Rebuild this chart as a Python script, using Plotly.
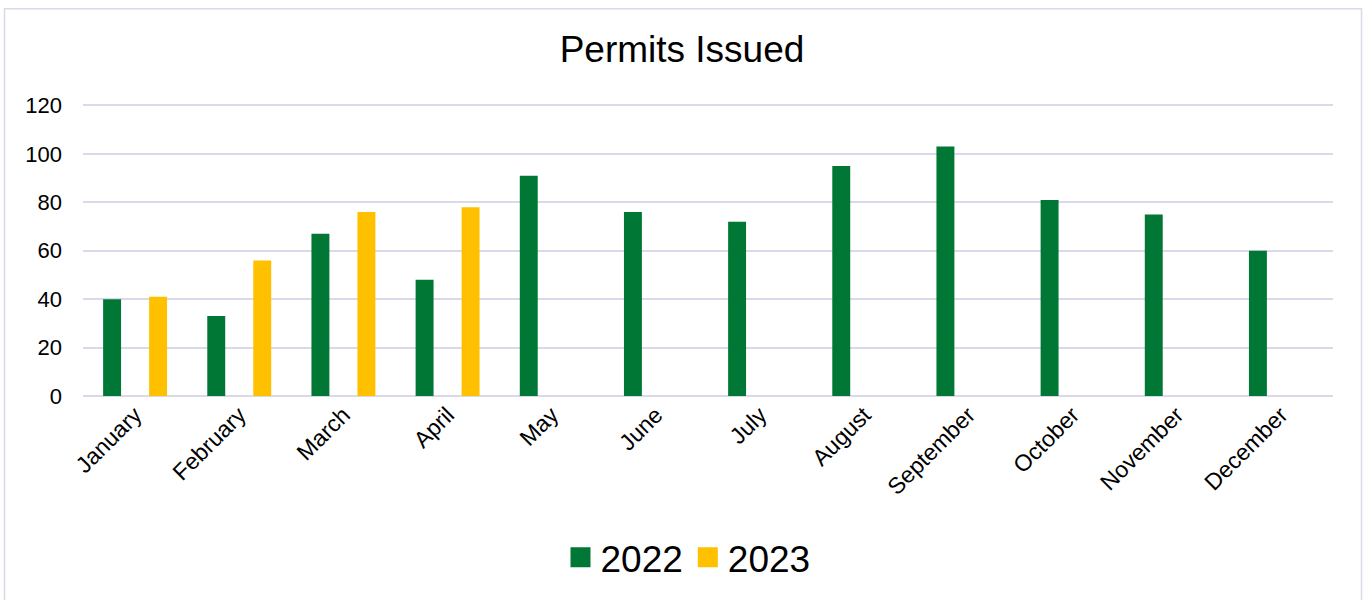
import plotly.graph_objects as go

months = ["January", "February", "March", "April", "May", "June", "July",
          "August", "September", "October", "November", "December"]
vals_2022 = [40, 33, 67, 48, 91, 76, 72, 95, 103, 81, 75, 60]
vals_2023 = [41, 56, 76, 78, None, None, None, None, None, None, None, None]
series_names = ["2022", "2023"]
colors = ["#007734", "#FFC000"]
y_ticks = [0, 20, 40, 60, 80, 100, 120]

FONT = "Liberation Sans, Arial, sans-serif"

fig = go.Figure()
for name, vals, col in zip(series_names, [vals_2022, vals_2023], colors):
    fig.add_trace(go.Bar(x=months, y=vals, name=name, marker_color=col,
                         marker_line_width=0, showlegend=False))
for name, col in zip(series_names, colors):
    fig.add_trace(go.Scatter(x=[None], y=[None], mode="markers", name=name,
                             marker=dict(symbol="square", size=16, color=col,
                                         line=dict(color=col, width=4))))

fig.update_layout(
    width=1364, height=600,
    margin=dict(l=83, r=31, t=104, b=200),
    paper_bgcolor="white", plot_bgcolor="white",
    font=dict(family=FONT, color="#000000"),
    title=dict(text="Permits Issued", x=0.5, xanchor="center", y=0.918, yanchor="middle",
               font=dict(size=37, family=FONT, color="#000000")),
    barmode="group", bargap=0.117, bargroupgap=0.61,
    legend=dict(orientation="h", x=0.484, xanchor="center", y=-0.554, yanchor="middle",
                font=dict(size=37, family=FONT), itemwidth=30, tracegroupgap=0),
    xaxis=dict(tickangle=-45, tickfont=dict(size=23), showgrid=False, showline=False,
               ticks="", fixedrange=True, automargin=False),
    yaxis=dict(range=[0, 120.6], tickvals=y_ticks, tickfont=dict(size=22),
               gridcolor="#D9D9EA", gridwidth=2, zeroline=True, zerolinecolor="#D9D9EA",
               zerolinewidth=2, showline=False, ticks="", ticklabelstandoff=20,
               automargin=False),
    shapes=[dict(type="rect", xref="paper", yref="paper",
                 x0=(4.5 - 83) / 1250, x1=(1361.5 - 83) / 1250,
                 y0=-0.78, y1=(400 - 7.5) / 296,
                 line=dict(color="#D9D9EA", width=1.5), fillcolor="rgba(0,0,0,0)",
                 layer="below")],
)

fig.write_html("out.html")
